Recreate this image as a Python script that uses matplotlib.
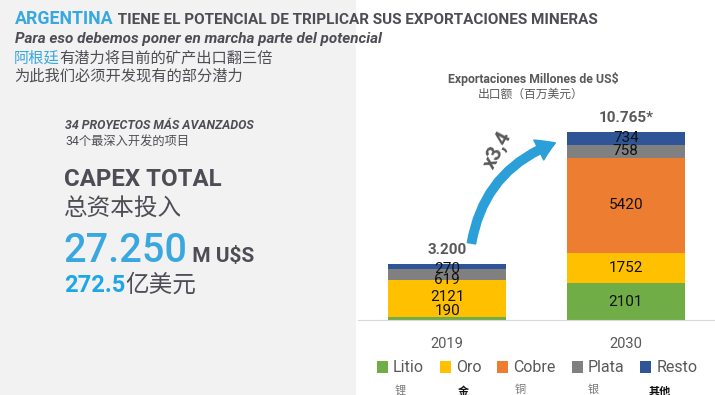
import matplotlib
matplotlib.use("Agg")
import matplotlib.pyplot as plt
from matplotlib.patches import Rectangle, FancyArrowPatch
import numpy as np

plt.rcParams['font.family'] = ['Roboto', 'Noto Sans CJK SC', 'DejaVu Sans']

# ---- data ----
years = ['2019', '2030']
totals_labels = ['3.200', '10.765*']
minerals = ['Litio', 'Oro', 'Cobre', 'Plata', 'Resto']
minerals_cn = ['锂', '金', '铜', '银', '其他']
litio = [190, 2101]
oro = [2121, 1752]
cobre = [0, 5420]
plata = [619, 758]
resto = [270, 734]
series = [litio, oro, cobre, plata, resto]
colors = ['#70ad47', '#ffc000', '#ed7d31', '#808080', '#2f5597']

W, H = 715, 395
fig = plt.figure(figsize=(W / 100, H / 100), dpi=100)
fig.patch.set_facecolor('white')

def fx(x):
    return x / W

def fy(y):
    return 1 - y / H

# gray left panel
fig.patches.append(Rectangle((0, 0), fx(356), 1, transform=fig.transFigure,
                             facecolor='#f2f2f2', edgecolor='none', zorder=0))

GRAY = '#4d4d55'
BLUE = '#3aa8e0'

# ---- header ----
t1 = fig.text(fx(15), fy(24), 'ARGENTINA', color=BLUE, fontsize=12.8,
              fontweight='bold', va='baseline', ha='left')
fig.add_artist(plt.Annotation(' TIENE EL POTENCIAL DE TRIPLICAR SUS EXPORTACIONES MINERAS',
                              xy=(1, fy(24)), xycoords=(t1, 'figure fraction'),
                              color=GRAY, fontsize=11, fontweight='bold', va='baseline', ha='left'))
fig.text(fx(15), fy(43), 'Para eso debemos poner en marcha parte del potencial', color=GRAY,
         fontsize=11, fontweight='bold', style='italic', va='baseline', ha='left')
t3 = fig.text(fx(14), fy(58), '阿根廷', color=BLUE, fontsize=11, va='center', ha='left',
              family='Noto Sans CJK SC')
fig.add_artist(plt.Annotation('有潜力将目前的矿产出口翻三倍', xy=(1, fy(58)),
                              xycoords=(t3, 'figure fraction'), color=GRAY, fontsize=11,
                              va='center', ha='left', family='Noto Sans CJK SC'))
fig.text(fx(14), fy(76), '为此我们必须开发现有的部分潜力', color=GRAY, fontsize=11,
         va='center', ha='left', family='Noto Sans CJK SC')

# ---- left block ----
fig.text(fx(65), fy(129), '34 PROYECTOS MÁS AVANZADOS', color=GRAY, fontsize=8.9,
         fontweight='bold', style='italic', va='baseline', ha='left')
fig.text(fx(65), fy(142), '34个最深入开发的项目', color=GRAY, fontsize=8.8,
         va='center', ha='left', family=['Roboto', 'Noto Sans CJK SC'])
fig.text(fx(64), fy(186), 'CAPEX TOTAL', color=GRAY, fontsize=17.3, fontweight='bold',
         va='baseline', ha='left')
fig.text(fx(64), fy(208), '总资本投入', color=GRAY, fontsize=17, va='center', ha='left',
         family='Noto Sans CJK SC')
t5 = fig.text(fx(63), fy(262), '27.250', color=BLUE, fontsize=28.5, fontweight='medium',
              va='baseline', ha='left')
fig.add_artist(plt.Annotation(' M U$S', xy=(1, fy(262)), xycoords=(t5, 'figure fraction'),
                              color=GRAY, fontsize=15, fontweight='bold', va='baseline',
                              ha='left'))
t6 = fig.text(fx(64), fy(292), '272.5', color='#1ea7e8', fontsize=17, fontweight='bold',
              va='baseline', ha='left')
fig.add_artist(plt.Annotation('亿美元', xy=(1, fy(285)), xycoords=(t6, 'figure fraction'),
                              color=GRAY, fontsize=17, va='center', ha='left',
                              family='Noto Sans CJK SC'))

# ---- chart ----
ax_top, ax_bot = 60, 320
ax = fig.add_axes([fx(358), fy(ax_bot), 1 - fx(358), (ax_bot - ax_top) / H])
ax.set_facecolor('none')
x = np.arange(len(years))
bottom = np.zeros(len(years))
bars = []
for name, vals, c in zip(minerals, series, colors):
    b = ax.bar(x, vals, width=0.66, bottom=bottom, color=c, label=name, zorder=2)
    bars.append(b)
    bottom += np.array(vals)
totals = bottom.copy()
ax.set_xlim(-0.5, 1.5)
ax.set_ylim(0, totals[1] * (ax_bot - ax_top) / 188.0)
for s in ['top', 'right', 'left']:
    ax.spines[s].set_visible(False)
ax.spines['bottom'].set_color('#d9d9d9')
ax.set_yticks([])
ax.set_xticks(x)
ax.set_xticklabels(years, color='#595959', fontsize=10.5)
ax.tick_params(axis='x', length=0, pad=12)

# segment labels
offs_2019 = {'Litio': 5, 'Oro': 1, 'Plata': -4, 'Resto': -2}
bot = np.zeros(len(years))
for name, vals in zip(minerals, series):
    for i, v in enumerate(vals):
        if v > 0:
            dy = offs_2019.get(name, 0) if i == 0 else 0
            ax.annotate(str(v), xy=(x[i], bot[i] + v / 2), xytext=(0, dy),
                        textcoords='offset points', ha='center', va='center',
                        fontsize=11, color='#111111', zorder=3)
    bot += np.array(vals)

for i, lab in enumerate(totals_labels):
    ax.annotate(lab, xy=(x[i], totals[i]), xytext=(0, 5), textcoords='offset points',
                ha='center', va='bottom', fontsize=11, fontweight='bold', color='#595959')

# chart title
fig.text(fx(533), fy(83), 'Exportaciones Millones de US$', color='#595959', fontsize=8.8,
         fontweight='bold', ha='center', va='baseline')
fig.text(fx(531), fy(94), '出口额（百万美元）', color='#595959', fontsize=8.5, ha='center',
         va='center', family='Noto Sans CJK SC')

# growth arrow
arr = FancyArrowPatch((fx(471), fy(246)), (fx(558), fy(142)), transform=fig.transFigure,
                      connectionstyle='arc3,rad=-0.3',
                      arrowstyle='simple,head_width=16,head_length=13,tail_width=6',
                      color='#2a9fd8', mutation_scale=1, zorder=5)
fig.patches.append(arr)
fig.text(fx(498), fy(150), 'x3,4', color='#595959', fontsize=15, fontweight='bold',
         rotation=62, ha='center', va='center')

# legend
leg = fig.legend(handles=[b for b in bars], labels=minerals, loc='center',
                 bbox_to_anchor=(fx(537), fy(368)), ncol=5, frameon=False,
                 fontsize=11.5, handlelength=0.7, handleheight=0.7, handletextpad=0.3,
                 columnspacing=1.0, labelcolor='#595959', borderpad=0.1)
cn_x = [400, 463, 520, 593, 660]
cn_col = ['#777777', '#111111', '#777777', '#777777', '#111111']
for cx, lab, cc in zip(cn_x, minerals_cn, cn_col):
    fig.text(fx(cx), fy(385), lab, fontsize=8, color=cc, ha='center', va='top',
             family='Noto Sans CJK SC', fontweight='bold' if cc == '#111111' else 'normal')

fig.savefig('out.png', dpi=100)
